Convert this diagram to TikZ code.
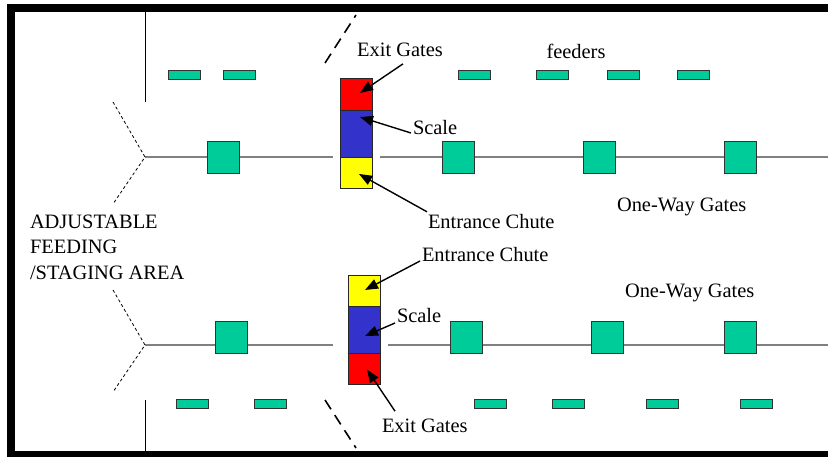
\documentclass[tikz,border=0pt]{standalone}
\usepackage{fontspec}
\setmainfont{Liberation Serif}
\usetikzlibrary{arrows.meta}
\definecolor{gatecol}{RGB}{0,204,153}
\definecolor{scalecol}{RGB}{51,51,204}
\definecolor{redcol}{RGB}{255,0,0}
\definecolor{yelcol}{RGB}{255,255,0}
\definecolor{lanecol}{RGB}{128,128,128}
\begin{document}
\begin{tikzpicture}[x=1bp,y=-1bp,
  gatebox/.style={draw=black!80,line width=0.9bp,fill=gatecol,minimum width=32bp,minimum height=32bp,inner sep=0,outer sep=0},
  feeder/.style={draw=black!80,line width=0.9bp,fill=gatecol,minimum width=32bp,minimum height=9bp,inner sep=0,outer sep=0},
  stackbox/.style={draw=black!85,line width=0.9bp,minimum width=32bp,inner sep=0,outer sep=0},
  lbl/.style={font=\fontsize{20.5}{25.5}\selectfont,inner sep=0,outer sep=0},
  lane/.style={draw=lanecol,line width=1.5bp},
  wall/.style={draw=black,line width=1bp},
  fan/.style={draw=black,line width=0.8bp,dash pattern=on 3bp off 2.5bp},
  swing/.style={draw=black,line width=1.6bp,dash pattern=on 11bp off 7bp},
  arr/.style={draw=black,line width=1.4bp,-{Triangle[length=13bp,width=10bp]}}
]
\useasboundingbox (0,0) rectangle (828,457);
\fill[white] (0,0) rectangle (828,457);
% frame
\draw[line width=8bp] (11,8) rectangle (860,455);

% key coordinates
\coordinate (tY) at (145,157);
\coordinate (tYa) at (113,102);
\coordinate (tYb) at (113,204);
\coordinate (tGapL) at (333,157);
\coordinate (tGapR) at (380,157);
\coordinate (tEnd) at (828,157);
\coordinate (tWallTop) at (145,12);
\coordinate (tWallBot) at (145,102);
\coordinate (tSwA) at (325,63);
\coordinate (tSwB) at (356,15);

\coordinate (bY) at (145,345);
\coordinate (bYa) at (113,290);
\coordinate (bYb) at (113,392);
\coordinate (bGapL) at (333,345);
\coordinate (bGapR) at (388,345);
\coordinate (bEnd) at (828,345);
\coordinate (bWallTop) at (145,400);
\coordinate (bWallBot) at (145,451);
\coordinate (bSwA) at (325,400);
\coordinate (bSwB) at (356,448);

% lanes, walls, fans, swing gates
\draw[lane] (tY) -- (tGapL);
\draw[lane] (tGapR) -- (tEnd);
\draw[lane] (bY) -- (bGapL);
\draw[lane] (bGapR) -- (bEnd);
\draw[wall] (tWallTop) -- (tWallBot);
\draw[wall] (bWallTop) -- (bWallBot);
\draw[fan] (tYa) -- (tY) -- (tYb);
\draw[fan] (bYa) -- (bY) -- (bYb);
\draw[swing] (tSwA) -- (tSwB);
\draw[swing] (bSwA) -- (bSwB);

% top lane gates
\node[gatebox] (tg1) at (223,157) {};
\node[gatebox] (tg2) at (458,157) {};
\node[gatebox] (tg3) at (599,157) {};
\node[gatebox] (tg4) at (740,157) {};
% bottom lane gates
\node[gatebox] (bg1) at (231,337) {};
\node[gatebox] (bg2) at (466,337) {};
\node[gatebox] (bg3) at (607,337) {};
\node[gatebox] (bg4) at (740,337) {};

% feeders
\node[feeder] (tf1) at (184,74.5) {};
\node[feeder] (tf2) at (239,74.5) {};
\node[feeder] (tf3) at (474,74.5) {};
\node[feeder] (tf4) at (552,74.5) {};
\node[feeder] (tf5) at (623,74.5) {};
\node[feeder] (tf6) at (693,74.5) {};
\node[feeder] (bf1) at (192,404) {};
\node[feeder] (bf2) at (270,404) {};
\node[feeder] (bf3) at (490,404) {};
\node[feeder] (bf4) at (568,404) {};
\node[feeder] (bf5) at (662,404) {};
\node[feeder] (bf6) at (756,404) {};

% scale stacks
\node[stackbox,fill=redcol,minimum height=32bp] (redT) at (356,94) {};
\node[stackbox,fill=scalecol,minimum height=47bp] (blueT) at (356,133.5) {};
\node[stackbox,fill=yelcol,minimum height=31bp] (yelT) at (356,172.5) {};
\node[stackbox,fill=yelcol,minimum height=31bp] (yelB) at (364,290.5) {};
\node[stackbox,fill=scalecol,minimum height=47bp] (blueB) at (364,329.5) {};
\node[stackbox,fill=redcol,minimum height=31bp] (redB) at (364,368.5) {};

% labels
\node[lbl] (exitT) at (400,50) {Exit Gates};
\node[lbl] (feedT) at (576,51) {feeders};
\node[lbl,anchor=west] (scaleT) at (413,128) {Scale};
\node[lbl,anchor=west] (entT) at (428,222) {Entrance Chute};
\node[lbl,anchor=west] (owT) at (617,207) {One-Way Gates};
\node[lbl,anchor=north west,align=left] (area) at (30,215) {ADJUSTABLE\\FEEDING\\/STAGING AREA};
\node[lbl,anchor=west] (entB) at (422,255) {Entrance Chute};
\node[lbl,anchor=west] (owB) at (625,293) {One-Way Gates};
\node[lbl,anchor=west] (scaleB) at (397,316) {Scale};
\node[lbl,anchor=west] (exitB) at (382,426) {Exit Gates};

% arrows
\draw[arr] ([shift={(3,7)}]exitT.south) -- ([shift={(4,-1)}]redT.center);
\draw[arr] ([shift={(-2,5)}]scaleT.west) -- ([shift={(4,-16.5)}]blueT.center);
\draw[arr] ([shift={(-1,-3)}]entT.north west) -- ([shift={(3,1.5)}]yelT.center);
\draw[arr] ([shift={(-2,6)}]entB.west) -- ([shift={(1,-0.5)}]yelB.center);
\draw[arr] ([shift={(-2,7)}]scaleB.west) -- ([shift={(1,6.5)}]blueB.center);
\draw[arr] ([shift={(13,-8)}]exitB.north west) -- ([shift={(3,1)}]redB.center);
\end{tikzpicture}
\end{document}
